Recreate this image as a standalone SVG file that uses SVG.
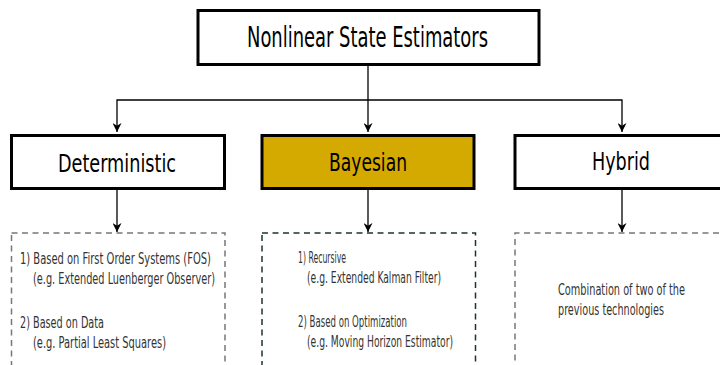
<svg xmlns="http://www.w3.org/2000/svg" width="720" height="365" viewBox="0 0 720 365">
  <defs>
    <marker id="arrow" viewBox="0 0 10 10" refX="10" refY="5" markerWidth="9" markerHeight="9" markerUnits="userSpaceOnUse" orient="auto">
      <path d="M0,0 L10,5 L0,10 L3,5 Z" fill="#000"/>
    </marker>
    <style>
      .box { fill: #fff; stroke: #000; stroke-width: 3; }
      .bayes { fill: #d4aa00; }
      .dash { fill: none; stroke: #777; stroke-width: 1.5; stroke-dasharray: 6 4.5; }
      .dash-dark { stroke: #1c3333; }
      .edge { fill: none; stroke: #000; stroke-width: 1.3; marker-end: url(#arrow); }
      .title { font-family: "DejaVu Sans Condensed", "DejaVu Sans", sans-serif; font-stretch: condensed; fill: #000; }
      .body { font-family: "DejaVu Sans Condensed", "DejaVu Sans", sans-serif; font-stretch: condensed; font-size: 16.5px; fill: #333; }
    </style>
  </defs>

  <!-- connectors -->
  <g id="connectors">
    <path class="edge" d="M368,65 L368,132"/>
    <path class="edge" d="M368,100 L117,100 L117,132"/>
    <path class="edge" d="M368,100 L622,100 L622,132"/>
    <path class="edge" d="M117,190 L117,232"/>
    <path class="edge" d="M368,190 L368,232"/>
    <path class="edge" d="M622,190 L622,232"/>
  </g>

  <!-- root -->
  <g id="root">
    <rect class="box" x="198" y="10.5" width="341" height="54"/>
    <text class="title" x="247" y="46.5" font-size="27.5" textLength="241" lengthAdjust="spacingAndGlyphs">Nonlinear State Estimators</text>
  </g>

  <!-- categories -->
  <g id="deterministic">
    <rect class="box" x="11.5" y="135.5" width="213" height="53"/>
    <text class="title" x="58" y="171.5" font-size="25" textLength="118" lengthAdjust="spacingAndGlyphs">Deterministic</text>
  </g>
  <g id="bayesian">
    <rect class="box bayes" x="262" y="135.5" width="212" height="53"/>
    <text class="title" x="329" y="171" font-size="25" textLength="78" lengthAdjust="spacingAndGlyphs">Bayesian</text>
  </g>
  <g id="hybrid">
    <!-- runs past the right edge of the canvas -->
    <path class="box" d="M740,135.5 H515 V188.5 H740"/>
    <text class="title" x="592" y="170" font-size="25" textLength="58" lengthAdjust="spacingAndGlyphs">Hybrid</text>
  </g>

  <!-- descriptions -->
  <g id="deterministic-details">
    <rect class="dash" x="11.5" y="233" width="213.5" height="200"/>
    <text class="body" x="20" y="264" textLength="191" lengthAdjust="spacingAndGlyphs">1) Based on First Order Systems (FOS)</text>
    <text class="body" x="33" y="284" textLength="182" lengthAdjust="spacingAndGlyphs">(e.g. Extended Luenberger Observer)</text>
    <text class="body" x="20" y="328" textLength="84" lengthAdjust="spacingAndGlyphs">2) Based on Data</text>
    <text class="body" x="33" y="348" textLength="133" lengthAdjust="spacingAndGlyphs">(e.g. Partial Least Squares)</text>
  </g>
  <g id="bayesian-details">
    <rect class="dash dash-dark" x="262" y="233" width="213.5" height="200"/>
    <text class="body" x="298" y="262.5" textLength="48" lengthAdjust="spacingAndGlyphs">1) Recursive</text>
    <text class="body" x="307" y="282.5" textLength="134" lengthAdjust="spacingAndGlyphs">(e.g. Extended Kalman Filter)</text>
    <text class="body" x="298" y="327" textLength="109" lengthAdjust="spacingAndGlyphs">2) Based on Optimization</text>
    <text class="body" x="307" y="347" textLength="146" lengthAdjust="spacingAndGlyphs">(e.g. Moving Horizon Estimator)</text>
  </g>
  <g id="hybrid-details">
    <path class="dash" d="M740,233 H515 V400"/>
    <!-- horizontally narrowed lines -->
    <g transform="translate(558,0) scale(0.6,1)">
      <text class="body" x="0" y="295" textLength="211.7" lengthAdjust="spacingAndGlyphs">Combination of two of the</text>
      <text class="body" x="0" y="315" textLength="176.7" lengthAdjust="spacingAndGlyphs">previous technologies</text>
    </g>
  </g>
</svg>
